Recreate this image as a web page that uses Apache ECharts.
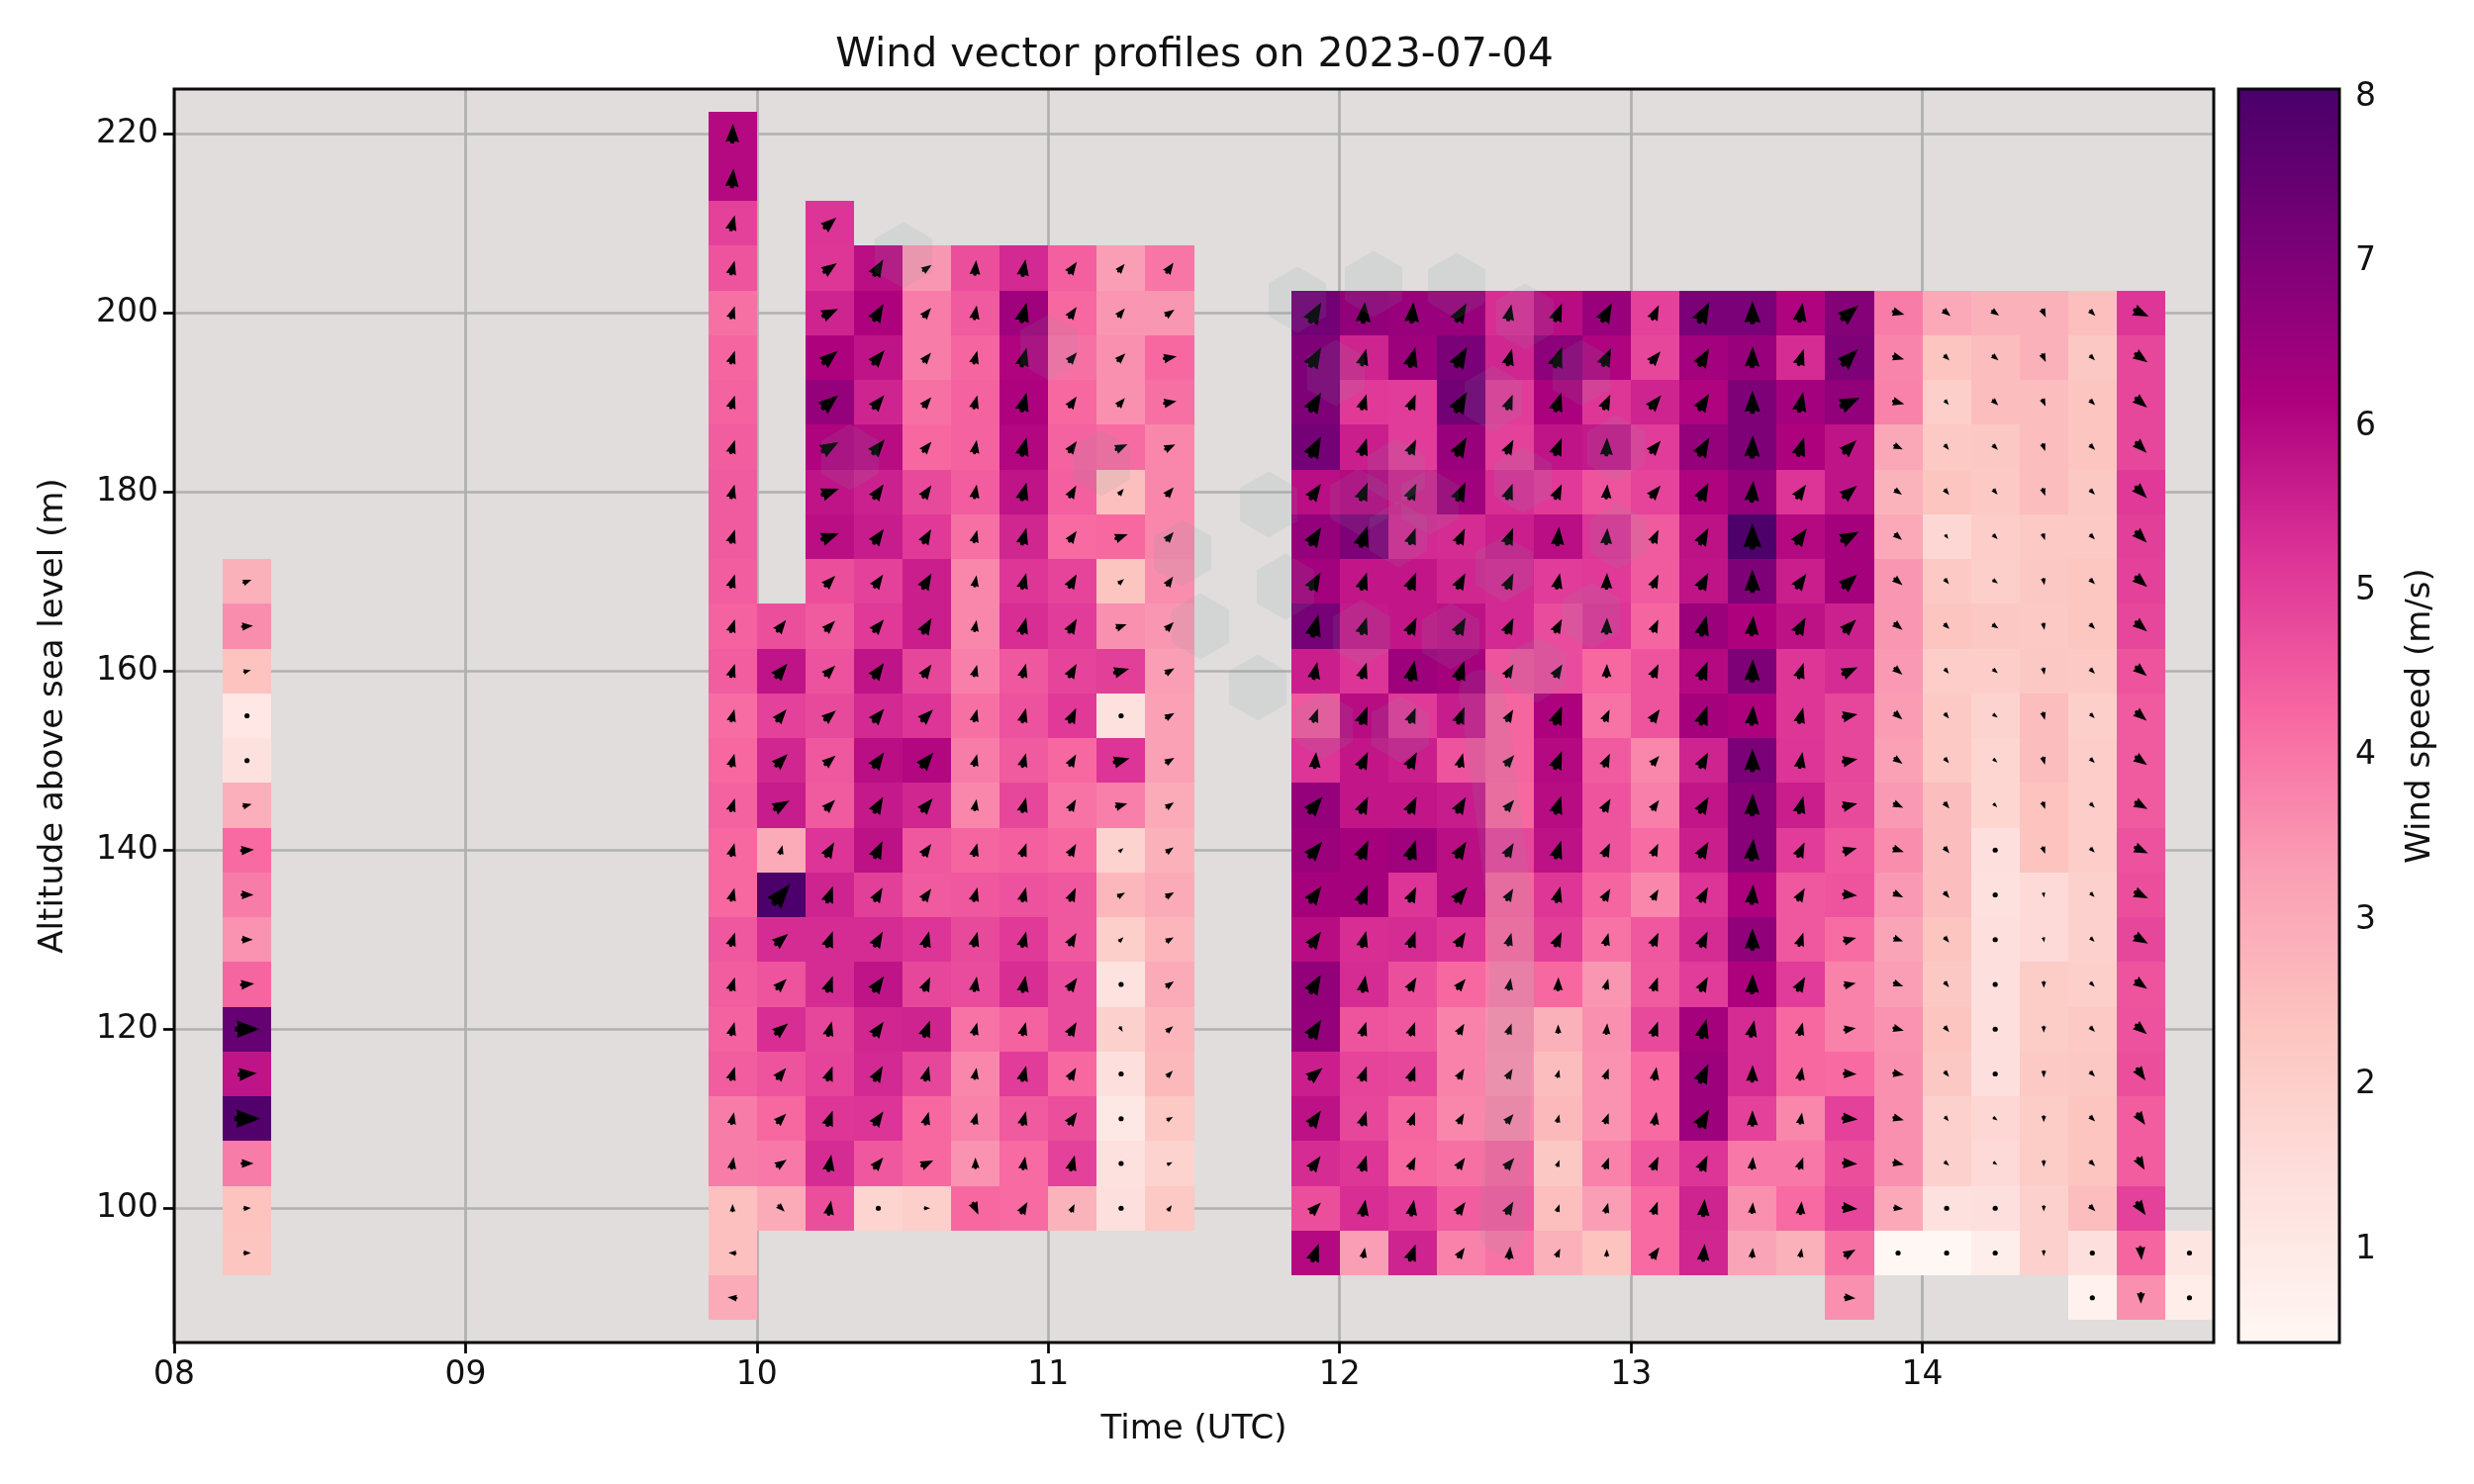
<!DOCTYPE html>
<html><head><meta charset="utf-8">
<style>html,body{margin:0;padding:0;background:#fff}#c{width:2500px;height:1500px}</style>
<script src="https://cdn.jsdelivr.net/npm/echarts@6/dist/echarts.min.js"></script>
</head><body><div id="c"></div>
<script>
const xTickHours = [8,9,10,11,12,13,14];
const yTickAltitudes = [100,120,140,160,180,200,220];
const cbarTicks = [1,2,3,4,5,6,7,8];
const speedMin = 0.435, speedMax = 8.05;
const rdPu = ['#fff7f3','#fde0dd','#fcc5c0','#fa9fb5','#f768a1','#dd3497','#ae017e','#7a0177','#49006a'];

// column start, in minutes after midnight; top altitude of each column (m)
const colStartMin = [490,590,600,610,620,630,640,650,660,670,680,710,720,730,740,750,760,770,780,790,800,810,820,830,840,850,860,870,880,890];
const colTopAlt   = [170,220,165,210,205,205,205,205,205,205,205,200,200,200,200,200,200,200,200,200,200,200,200,200,200,200,200,200,200,95];

// wind speed (m/s) per column, top row downward in 5 m steps
const s0 = [2.85,3.6,2.4,1.1,1.35,2.9,4.2,3.9,3.5,4.3,7.5,5.8,7.9,3.9,2.4,2.35];
const s1 = [6.0,6.0,4.95,4.6,4.1,4.3,4.35,4.45,4.5,4.5,4.45,4.35,4.45,4.15,4.25,4.35,4.25,4.25,4.55,4.45,4.35,4.45,3.9,3.9,2.45,2.45,3.0];
const s2 = [4.7,5.8,4.95,5.45,5.65,3.0,8.0,5.35,4.6,5.3,4.6,4.25,3.95,3.0];
const s3 = [5.2,5.15,5.5,6.15,6.6,6.1,5.8,5.9,4.7,4.5,4.65,4.8,4.55,4.5,5.2,5.5,5.35,5.35,4.85,4.9,5.15,5.35,4.7];
const s4 = [5.9,6.15,5.8,5.5,5.95,5.55,5.65,4.95,5.1,5.8,5.4,5.9,5.7,5.85,5.0,5.35,5.8,5.45,5.4,5.2,4.55,1.8];
const s5 = [3.45,3.9,3.9,4.1,4.25,4.8,5.1,5.6,5.6,4.85,5.2,6.05,5.45,4.55,4.5,5.2,4.85,5.5,4.85,4.25,4.25,2.0];
const s6 = [4.7,4.5,4.3,4.35,4.35,4.45,4.1,3.7,3.7,3.85,4.1,3.9,3.7,4.3,4.55,4.8,4.75,4.05,3.7,3.8,3.5,4.25];
const s7 = [5.4,6.4,6.1,6.15,6.05,5.8,5.45,5.15,5.3,4.55,4.65,4.5,4.85,4.4,4.65,5.1,5.3,4.35,5.05,4.5,4.2,4.2];
const s8 = [4.4,4.25,4.1,4.25,4.35,4.4,4.2,4.9,5.05,4.9,5.1,4.25,4.05,4.25,4.55,4.55,4.75,4.75,4.25,4.7,4.95,2.8];
const s9 = [3.3,3.45,3.55,3.55,4.2,2.5,4.25,2.35,3.55,5.0,1.35,5.2,3.85,1.85,2.7,2.0,1.3,1.9,1.4,1.05,1.35,1.4];
const s10 = [4.0,3.45,4.25,4.1,3.7,3.7,3.7,3.6,3.45,3.3,3.25,3.25,3.0,2.85,3.0,2.75,3.0,2.75,2.65,2.2,1.85,2.2];
const s11 = [7.25,7.0,7.0,7.2,5.9,6.6,6.35,7.15,5.6,4.55,5.2,6.6,6.5,6.3,5.95,6.65,6.6,5.6,5.85,5.35,4.7,6.0];
const s12 = [6.65,5.5,5.1,5.6,6.0,7.0,5.75,5.7,5.2,5.95,5.75,5.75,6.3,6.3,5.3,5.35,4.6,4.9,4.85,5.15,5.3,3.3];
const s13 = [6.55,6.45,5.05,5.05,5.5,5.4,5.75,5.75,6.45,5.1,5.6,5.75,6.4,5.2,5.35,4.7,4.55,4.85,4.3,4.25,5.1,5.5];
const s14 = [6.55,7.1,7.25,6.55,6.4,5.35,5.45,5.85,6.3,5.65,4.6,5.65,5.9,5.9,5.15,4.25,3.8,3.8,3.7,4.1,4.45,3.8];
const s15 = [5.3,5.45,5.05,4.95,5.3,5.6,5.4,5.4,4.6,4.3,4.3,4.25,4.85,4.3,4.2,3.9,3.6,3.55,3.7,4.3,4.5,4.05];
const s16 = [5.95,6.75,6.2,5.8,5.1,5.9,5.05,4.75,4.75,6.15,6.0,5.95,5.85,5.15,5.0,4.25,2.85,2.55,2.65,2.25,2.5,2.85];
const s17 = [6.55,6.1,5.15,5.7,4.6,5.2,5.1,5.2,4.25,4.05,4.5,4.6,4.6,4.3,4.05,3.45,3.55,3.5,3.5,3.8,3.3,2.4];
const s18 = [4.95,4.85,5.5,5.05,4.9,4.5,4.5,4.3,4.6,4.6,3.7,3.85,4.15,3.7,4.55,4.5,4.8,4.2,4.2,4.55,4.2,4.2];
const s19 = [7.1,6.35,6.1,6.6,6.1,5.85,5.8,6.5,6.0,6.3,5.5,5.75,5.6,5.2,5.35,5.05,6.3,6.45,6.45,5.2,5.5,5.45];
const s20 = [7.1,6.55,7.0,7.0,6.6,7.95,7.0,6.15,7.0,6.15,7.1,6.85,6.85,6.15,6.7,6.15,5.35,5.35,4.95,3.95,3.55,3.15];
const s21 = [6.1,5.35,6.35,6.15,5.2,6.0,5.6,5.85,5.15,5.15,5.2,5.6,5.05,4.55,4.55,5.05,4.25,4.25,3.7,3.95,4.2,2.85];
const s22 = [6.9,7.0,6.65,5.8,5.8,6.3,6.3,5.55,5.35,4.85,4.85,4.8,4.55,4.6,4.15,3.8,3.8,4.2,4.95,4.7,4.85,4.1,3.55];
const s23 = [3.9,3.75,3.8,3.1,2.8,3.05,3.45,3.45,3.4,3.35,3.25,3.4,3.6,3.4,3.15,3.3,3.5,3.55,3.55,3.55,3.05,0.45];
const s24 = [3.05,2.35,2.0,2.2,2.35,1.7,2.2,2.35,2.05,2.2,2.2,2.55,2.55,2.55,2.35,2.25,2.35,2.25,1.95,1.95,1.35,0.45];
const s25 = [2.85,2.55,2.55,2.25,2.2,2.05,2.0,2.25,2.05,1.85,1.75,1.75,1.4,1.35,1.4,1.4,1.4,1.4,1.7,1.6,1.4,0.8];
const s26 = [2.85,2.85,2.55,2.55,2.55,2.2,2.25,2.2,2.25,2.55,2.55,2.4,2.4,1.6,1.6,2.1,2.1,2.2,2.1,2.1,1.9,1.9];
const s27 = [2.5,2.25,2.35,2.35,2.25,2.2,2.3,2.3,2.2,2.0,2.05,2.05,2.05,1.9,1.9,2.0,2.2,2.25,2.35,2.35,2.55,1.4,0.65];
const s28 = [5.15,4.85,4.85,4.85,5.1,5.0,4.95,4.85,4.6,4.5,4.5,4.5,4.65,4.7,4.85,4.6,4.65,4.7,4.45,4.45,4.95,4.3,3.55];
const s29 = [1.2,0.85];
const colSpeeds = [s0,s1,s2,s3,s4,s5,s6,s7,s8,s9,s10,s11,s12,s13,s14,s15,s16,s17,s18,s19,s20,s21,s22,s23,s24,s25,s26,s27,s28,s29];

// wind direction on the picture (degrees, anticlockwise from +x); null draws a calm dot
const d0 = [20,5,15,null,null,15,5,0,0,5,0,5,0,0,5,0];
const d1 = [88,85,75,75,72,72,72,72,75,72,72,72,72,75,75,72,75,75,72,72,75,72,78,80,90,175,175];
const d2 = [52,50,50,45,30,75,50,40,45,40,50,45,35,-45];
const d3 = [40,35,25,40,40,30,20,20,45,45,45,40,40,45,60,70,70,70,75,70,70,80,80];
const d4 = [60,60,50,50,50,55,55,55,50,55,50,55,60,65,60,60,55,55,60,55,50,null];
const d5 = [35,50,50,50,50,55,60,60,60,55,45,50,50,55,55,75,65,70,75,75,25,0];
const d6 = [85,80,75,75,80,80,75,80,80,75,75,75,80,75,75,75,80,75,80,75,90,-65];
const d7 = [80,75,75,75,75,75,75,75,75,75,75,75,75,70,75,75,80,75,75,75,80,60];
const d8 = [55,55,50,55,55,60,55,60,60,60,65,60,60,60,65,60,55,60,60,55,75,65];
const d9 = [50,50,45,50,25,50,20,40,20,15,null,15,15,40,30,45,null,-60,null,null,null,null];
const d10 = [55,35,10,10,25,50,50,55,45,30,30,30,35,35,30,30,35,40,45,30,25,55];
const d11 = [60,60,60,62,55,58,60,75,78,70,85,50,50,55,55,60,58,40,55,55,45,70];
const d12 = [85,75,72,72,68,72,72,72,72,68,65,65,65,68,75,80,72,70,72,72,80,80];
const d13 = [85,75,68,65,65,70,68,65,78,68,62,65,72,65,70,60,70,70,70,65,80,70];
const d14 = [60,60,60,60,65,65,62,62,72,68,75,60,58,50,58,50,60,60,60,55,55,55];
const d15 = [78,75,68,62,70,68,65,65,60,60,50,50,60,60,75,80,70,60,50,50,60,85];
const d16 = [68,70,72,68,65,85,78,62,58,68,68,72,72,75,65,88,90,75,75,70,70,65];
const d17 = [62,65,65,88,85,85,88,88,88,65,65,60,65,60,75,75,85,70,70,70,75,88];
const d18 = [65,50,50,50,50,65,65,65,65,55,50,55,65,60,65,70,70,80,80,65,70,55];
const d19 = [62,60,58,60,62,62,62,75,68,70,62,60,60,62,65,62,75,65,60,65,85,85];
const d20 = [90,88,90,88,85,90,90,85,88,85,90,88,85,85,90,88,78,88,90,85,85,85];
const d21 = [80,72,78,72,55,55,55,62,72,75,80,75,65,60,72,60,75,80,80,70,85,80];
const d22 = [40,45,25,45,40,28,42,45,25,10,10,12,15,-5,15,12,8,-3,-5,-3,-5,30,-5];
const d23 = [-15,-15,-15,-25,-35,-40,-40,-40,-40,-40,-35,-25,-20,-25,-20,-20,-15,-10,-15,-12,-8,null];
const d24 = [-40,-45,-50,-50,-50,-55,-50,-45,-50,-50,-50,-50,-50,-50,-50,-50,-50,-50,-50,-40,null,null];
const d25 = [-35,-40,-45,-45,-50,-45,-35,-35,-40,-35,-40,-45,null,null,null,null,null,null,-35,-35,null,null];
const d26 = [-65,-65,-65,-70,-70,-70,-80,-80,-80,-75,-75,-70,-70,-80,-80,-90,-90,-90,-90,-90,-90,-90];
const d27 = [-45,-45,-45,-45,-45,-45,-45,-45,-45,-45,-45,-45,-45,-45,-45,-45,-45,-45,-45,-45,-45,null,null];
const d28 = [-25,-35,-40,-45,-45,-45,-40,-40,-40,-40,-35,-30,-25,-25,-30,-35,-40,-55,-55,-60,-55,-85,-90];
const d29 = [null,null];
const colDirs = [d0,d1,d2,d3,d4,d5,d6,d7,d8,d9,d10,d11,d12,d13,d14,d15,d16,d17,d18,d19,d20,d21,d22,d23,d24,d25,d26,d27,d28,d29];

// faint hexagon watermark over the plot (page pixels)
const hexCentres = [[913,258],[1060,351],[859,462],[1113,468],[1282,510],[1195,559],[1299,593],[1213,633],[1271,695],
  [1311,303],[1388,287],[1472,289],[1541,320],[1350,377],[1598,377],[1509,403],[1633,453],[1411,477],[1539,485],
  [1373,507],[1445,507],[1635,542],[1520,575],[1413,540],[1608,622],[1466,643],[1376,640],[1553,677],[1338,733],[1415,737]];
const pillPath = [[1518,1244],[1525,1080],[1527,950],[1515,830],[1497,700]];

const FONT = 'DejaVu Sans';
const cellData = [];
colSpeeds.forEach((speeds, c) => speeds.forEach((v, r) => {
  cellData.push([colStartMin[c] / 60 + 1 / 12, colTopAlt[c] - 5 * r, v, colDirs[c][r]]);
}));

function renderCell(params, api) {
  const t = api.value(0), a = api.value(1);
  const p0 = api.coord([t - 1 / 12, a + 2.5]), p1 = api.coord([t + 1 / 12, a - 2.5]);
  const x = Math.round(p0[0]), y = Math.round(p0[1]);
  return { type: 'rect', shape: { x, y, width: Math.round(p1[0]) - x, height: Math.round(p1[1]) - y },
    style: { fill: api.visual('color') } };
}
function renderArrow(params, api) {
  const c = api.coord([api.value(0), api.value(1)]);
  const raw = cellData[params.dataIndex][3];
  if (raw === null) return { type: 'circle', shape: { cx: c[0], cy: c[1], r: 2.6 }, style: { fill: '#000' } };
  const L = 3.4 * api.value(2), th = raw * Math.PI / 180, cs = Math.cos(th), sn = Math.sin(th);
  const pts = [[0.5,0],[-0.4,0.34],[-0.36,0.12],[-0.48,0.08],[-0.48,-0.08],[-0.36,-0.12],[-0.4,-0.34]].map(q => {
    const u = q[0] * L, v = q[1] * L;
    return [c[0] + u * cs - v * sn, c[1] - u * sn - v * cs];
  });
  return { type: 'polygon', shape: { points: pts }, style: { fill: '#000' } };
}
function renderBar(params, api) {
  const p0 = api.coord([0, speedMax]), p1 = api.coord([1, speedMin]);
  return { type: 'rect', shape: { x: p0[0], y: p0[1], width: p1[0] - p0[0], height: p1[1] - p0[1] },
    style: { fill: new echarts.graphic.LinearGradient(0, 1, 0, 0, rdPu.map((color, i) => ({ offset: i / (rdPu.length - 1), color }))) } };
}

const WATERMARK = 'rgba(124,154,160,0.12)';
const hexGraphics = hexCentres.map(h => ({
  type: 'polygon', z: 50, silent: true,
  shape: { points: [0,1,2,3,4,5].map(k => {
    const ang = Math.PI / 2 + k * Math.PI / 3;
    return [h[0] + 33.5 * Math.cos(ang), h[1] + 33.5 * Math.sin(ang)];
  }) },
  style: { fill: WATERMARK }
}));
const frame = (x, y, width, height) => ({ type: 'rect', z: 90, silent: true, shape: { x, y, width, height },
  style: { fill: 'none', stroke: '#0a0a0a', lineWidth: 3 } });

const tickStyle = { show: true, length: 11, lineStyle: { color: '#000', width: 2.7 } };
const labelStyle = { color: '#111', fontFamily: FONT, fontSize: 33 };
const nameStyle = { color: '#111', fontFamily: FONT, fontSize: 34 };

const chart = echarts.init(document.getElementById('c'), null, { renderer: 'canvas' });
chart.setOption({
  animation: false,
  backgroundColor: '#fff',
  title: { text: 'Wind vector profiles on 2023-07-04', left: 1202, top: 31, textAlign: 'center',
    textStyle: { color: '#111', fontFamily: FONT, fontSize: 41, fontWeight: 'normal' } },
  grid: [
    { left: 176, top: 90, width: 2061, height: 1267, show: true, backgroundColor: '#e0dddc', borderWidth: 0 },
    { left: 2262, top: 90, width: 102, height: 1267, show: false }
  ],
  xAxis: [
    { type: 'value', gridIndex: 0, min: 8, max: 15, interval: 1,
      name: 'Time (UTC)', nameLocation: 'middle', nameGap: 71, nameTextStyle: nameStyle, nameMoveOverlap: false,
      axisLine: { show: false },
      axisTick: Object.assign({ customValues: xTickHours }, tickStyle),
      axisLabel: { customValues: xTickHours, margin: 17, formatter: v => String(v).padStart(2, '0'), ...labelStyle },
      splitLine: { show: true, lineStyle: { color: '#b0b0b0', width: 2.7 } } },
    { type: 'value', gridIndex: 1, min: 0, max: 1, show: false }
  ],
  yAxis: [
    { type: 'value', gridIndex: 0, min: 85, max: 225,
      name: 'Altitude above sea level (m)', nameLocation: 'middle', nameGap: 105, nameRotate: 90, nameTextStyle: nameStyle, nameMoveOverlap: false,
      axisLine: { show: false },
      axisTick: Object.assign({ customValues: yTickAltitudes }, tickStyle),
      axisLabel: { customValues: yTickAltitudes, margin: 16, ...labelStyle },
      splitLine: { show: true, lineStyle: { color: '#b0b0b0', width: 2.7 } } },
    { type: 'value', gridIndex: 1, position: 'right', min: speedMin, max: speedMax,
      name: 'Wind speed (m/s)', nameLocation: 'middle', nameGap: 65, nameRotate: 90, nameTextStyle: nameStyle, nameMoveOverlap: false,
      axisLine: { show: false },
      axisTick: Object.assign({ customValues: cbarTicks }, tickStyle),
      axisLabel: { customValues: cbarTicks, margin: 16, ...labelStyle },
      splitLine: { show: false } }
  ],
  visualMap: { show: false, type: 'continuous', seriesIndex: 0, dimension: 2, min: speedMin, max: speedMax, inRange: { color: rdPu } },
  series: [
    { type: 'custom', name: 'cells', xAxisIndex: 0, yAxisIndex: 0, coordinateSystem: 'cartesian2d', z: 3,
      renderItem: renderCell, data: cellData.map(d => d.slice(0, 3)), encode: { x: 0, y: 1 } },
    { type: 'custom', name: 'vectors', xAxisIndex: 0, yAxisIndex: 0, coordinateSystem: 'cartesian2d', z: 4,
      renderItem: renderArrow, data: cellData.map(d => d.slice(0, 3)), encode: { x: 0, y: 1 } },
    { type: 'custom', name: 'colourbar', xAxisIndex: 1, yAxisIndex: 1, coordinateSystem: 'cartesian2d', z: 3,
      renderItem: renderBar, data: [[0, speedMin]], encode: { x: 0, y: 1 } }
  ],
  graphic: { elements: hexGraphics.concat([
    { type: 'polyline', z: 50, silent: true, shape: { points: pillPath, smooth: 0.4 },
      style: { fill: 'none', stroke: WATERMARK, lineWidth: 46, lineCap: 'round' } },
    frame(176, 90, 2061, 1267), frame(2262, 90, 102, 1267)
  ]) }
});
</script></body></html>
